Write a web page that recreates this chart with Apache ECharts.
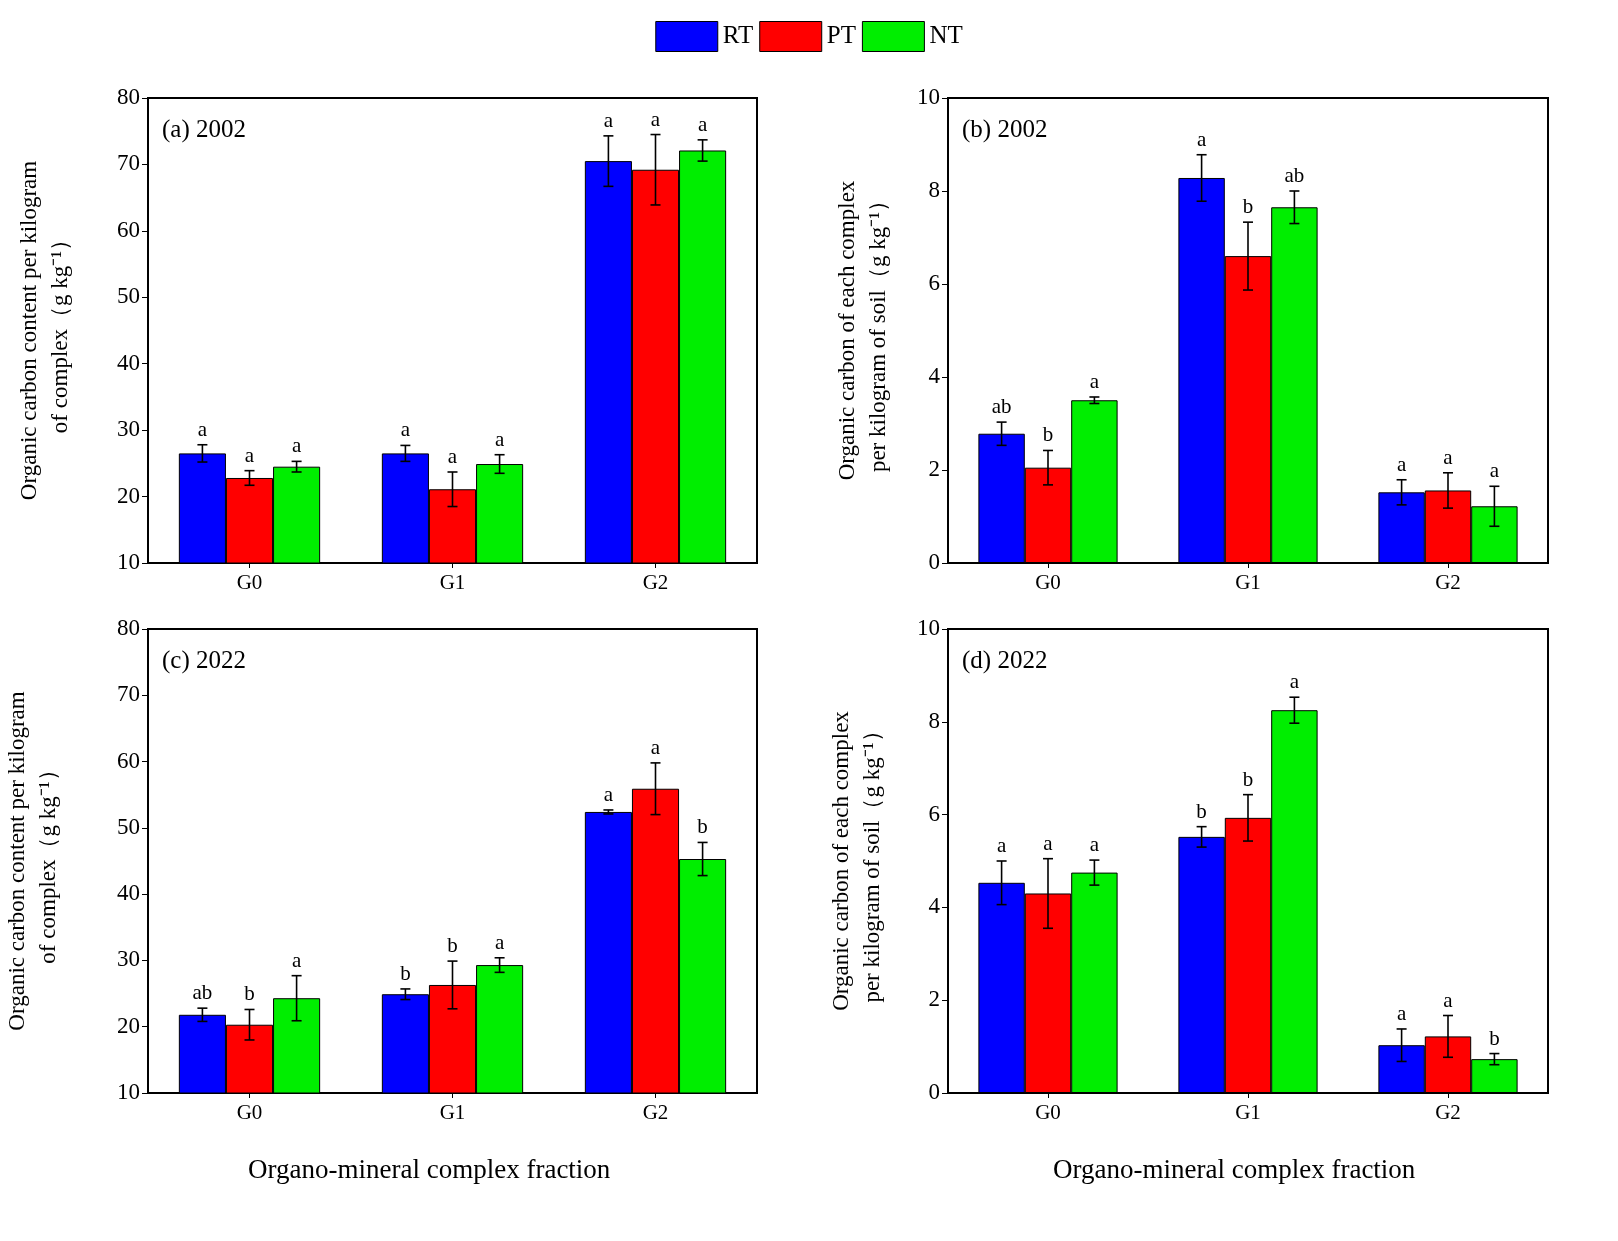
<!DOCTYPE html>
<html><head><meta charset="utf-8">
<script src="https://cdn.jsdelivr.net/npm/echarts@6/dist/echarts.min.js"></script>
<style>html,body{margin:0;background:#fff}#c{width:1618px;height:1241px}</style>
</head><body><div id="c"></div>
<script>
var categories = ['G0', 'G1', 'G2'];
var treatments = ['RT', 'PT', 'NT'];
var colors = ['#0000ff', '#ff0000', '#00ee00'];

// panel (a) 2002
var aMean = [[26.5, 26.5, 70.5], [22.8, 21.1, 69.2], [24.5, 24.9, 72.1]];
var aErr = [[1.3, 1.2, 3.8], [1.1, 2.6, 5.3], [0.8, 1.4, 1.6]];
var aSig = [['a', 'a', 'a'], ['a', 'a', 'a'], ['a', 'a', 'a']];
// panel (b) 2002
var bMean = [[2.78, 8.28, 1.52], [2.05, 6.6, 1.56], [3.5, 7.65, 1.22]];
var bErr = [[0.25, 0.5, 0.27], [0.37, 0.73, 0.38], [0.07, 0.35, 0.43]];
var bSig = [['ab', 'a', 'a'], ['b', 'b', 'a'], ['a', 'ab', 'a']];
// panel (c) 2022
var cMean = [[21.8, 24.9, 52.4], [20.3, 26.3, 55.9], [24.3, 29.3, 45.3]];
var cErr = [[1.0, 0.8, 0.3], [2.3, 3.6, 3.9], [3.4, 1.1, 2.5]];
var cSig = [['ab', 'b', 'a'], ['b', 'b', 'a'], ['a', 'a', 'b']];
// panel (d) 2022
var dMean = [[4.53, 5.52, 1.03], [4.3, 5.93, 1.22], [4.75, 8.25, 0.73]];
var dErr = [[0.47, 0.22, 0.35], [0.75, 0.5, 0.45], [0.27, 0.28, 0.12]];
var dSig = [['a', 'b', 'a'], ['a', 'b', 'a'], ['a', 'a', 'b']];

var font = 'Liberation Serif';
var panels = [
  {mean: aMean, err: aErr, sig: aSig, min: 10, max: 80, interval: 10, label: '(a) 2002',
   name: 'Organic carbon content per kilogram\nof complex（g kg⁻¹）', box: [148, 98, 609, 465], gap: 72},
  {mean: bMean, err: bErr, sig: bSig, min: 0, max: 10, interval: 2, label: '(b) 2002',
   name: 'Organic carbon of each complex\nper kilogram of soil（g kg⁻¹）', box: [948, 98, 600, 465], gap: 54},
  {mean: cMean, err: cErr, sig: cSig, min: 10, max: 80, interval: 10, label: '(c) 2022',
   name: 'Organic carbon content per kilogram\nof complex（g kg⁻¹）', box: [148, 629, 609, 464], gap: 84},
  {mean: dMean, err: dErr, sig: dSig, min: 0, max: 10, interval: 2, label: '(d) 2022',
   name: 'Organic carbon of each complex\nper kilogram of soil（g kg⁻¹）', box: [948, 629, 600, 464], gap: 60}
];

var BW = 0.232;
var grid = [], xAxis = [], yAxis = [], series = [], graphic = [];
panels.forEach(function (p, k) {
  grid.push({left: p.box[0], top: p.box[1], width: p.box[2], height: p.box[3],
    show: true, borderColor: '#000', borderWidth: 2, backgroundColor: 'transparent'});
  xAxis.push({type: 'category', gridIndex: k, data: categories,
    axisLine: {lineStyle: {color: '#000', width: 2}}, axisTick: {show: true, alignWithLabel: true, length: 5, lineStyle: {color: '#000'}},
    axisLabel: {color: '#000', fontFamily: font, fontSize: 21, margin: 10}});
  yAxis.push({type: 'value', gridIndex: k, min: p.min, max: p.max, interval: p.interval,
    splitLine: {show: false}, axisLine: {show: true, lineStyle: {color: '#000', width: 2}},
    axisTick: {show: true, length: 6, lineStyle: {color: '#000'}},
    axisLabel: {color: '#000', fontFamily: font, fontSize: 23, margin: 8},
    name: p.name, nameLocation: 'middle', nameGap: p.gap, nameRotate: 90,
    nameTextStyle: {color: '#000', fontFamily: font, fontSize: 23, lineHeight: 31}});
  treatments.forEach(function (t, i) {
    series.push({type: 'bar', name: t, xAxisIndex: k, yAxisIndex: k, data: p.mean[i],
      barWidth: (BW * 100) + '%', barGap: '0%',
      itemStyle: {color: colors[i], borderColor: '#000', borderWidth: 1}});
  });
  treatments.forEach(function (t, i) {
    var d = p.mean[i].map(function (v, j) { return [j, v, p.err[i][j], p.sig[i][j]]; });
    series.push({type: 'custom', name: t + '_err', xAxisIndex: k, yAxisIndex: k, z: 5, data: d,
      renderItem: function (params, api) {
        var band = api.size([1, 0])[0];
        var x = api.coord([api.value(0), 0])[0] + (i - 1) * BW * band;
        var top = api.coord([0, api.value(1) + api.value(2)])[1];
        var bot = api.coord([0, api.value(1) - api.value(2)])[1];
        var st = {stroke: '#000', lineWidth: 1.6};
        return {type: 'group', children: [
          {type: 'line', shape: {x1: x, y1: top, x2: x, y2: bot}, style: st},
          {type: 'line', shape: {x1: x - 5, y1: top, x2: x + 5, y2: top}, style: st},
          {type: 'line', shape: {x1: x - 5, y1: bot, x2: x + 5, y2: bot}, style: st},
          {type: 'text', style: {text: p.sig[i][params.dataIndex], x: x, y: top - 4, align: 'center', verticalAlign: 'bottom',
            fill: '#000', font: '21px "' + font + '"'}}
        ]};
      }});
  });
  graphic.push({type: 'text', left: p.box[0] + 14, top: p.box[1] + 20,
    style: {text: p.label, fill: '#000', font: '25px "' + font + '"'}});
});
graphic.push({type: 'text', left: 248, top: 1157, style: {text: 'Organo-mineral complex fraction', fill: '#000', font: '27px "' + font + '"'}});
graphic.push({type: 'text', left: 1053, top: 1157, style: {text: 'Organo-mineral complex fraction', fill: '#000', font: '27px "' + font + '"'}});

var chart = echarts.init(document.getElementById('c'));
chart.setOption({
  backgroundColor: '#fff',
  animation: false,
  legend: {data: treatments, top: 16, left: 'center', icon: 'rect', itemWidth: 62, itemHeight: 30, itemGap: 6,
    itemStyle: {borderColor: '#000', borderWidth: 1},
    textStyle: {color: '#000', fontFamily: font, fontSize: 25}},
  grid: grid, xAxis: xAxis, yAxis: yAxis, series: series, graphic: graphic
});
</script></body></html>
